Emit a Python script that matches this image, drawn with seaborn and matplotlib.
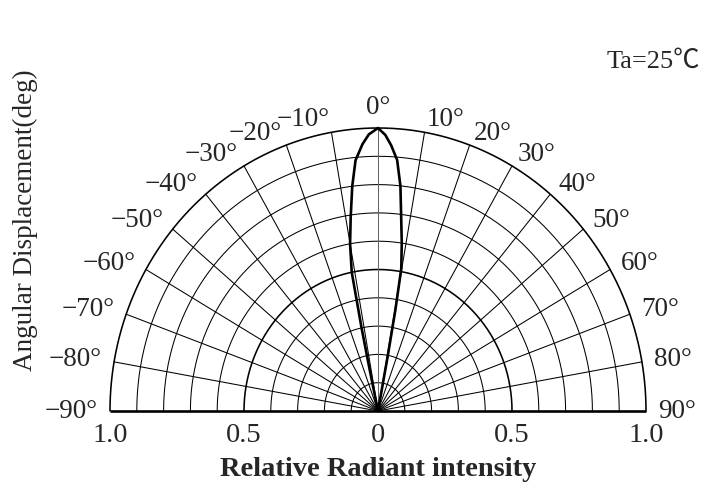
import numpy as np
import pandas as pd
import matplotlib
matplotlib.use("Agg")
import matplotlib.pyplot as plt
import seaborn as sns

# ---- data ----
beam_angle_deg = [-11.5, -12.0, -11.8, -11.3, -10.0, -8.5, -6.9, -5.4, -3.5, -2.0, 0.0,
                  1.6, 3.0, 4.6, 6.0, 7.2, 8.5, 9.8, 10.3, 10.6, 10.5]
beam_r = [0.0, 0.15, 0.30, 0.50, 0.60, 0.69, 0.80, 0.89, 0.945, 0.978, 1.0,
          0.976, 0.94, 0.89, 0.80, 0.69, 0.60, 0.51, 0.36, 0.20, 0.0]
grid_radii = [0.1, 0.2, 0.3, 0.4, 0.5, 0.6, 0.7, 0.8, 0.9, 1.0]
grid_angles = [-80, -70, -60, -50, -40, -30, -20, -10, 0, 10, 20, 30, 40, 50, 60, 70, 80]
angle_labels = [-90, -80, -70, -60, -50, -40, -30, -20, -10, 0, 10, 20, 30, 40, 50, 60, 70, 80, 90]
tick_pos = [-1.0, -0.5, 0.0, 0.5, 1.0]
tick_labels = ["1.0", "0.5", "0", "0.5", "1.0"]
xlabel = "Relative Radiant intensity"
ylabel = "Angular Displacement(deg)"
note = "Ta=25℃"

sns.set_theme(style="white")
plt.rcParams['font.family'] = ['Liberation Serif', 'Noto Sans CJK SC', 'DejaVu Sans']

W, H = 719, 488
fig = plt.figure(figsize=(W / 100, H / 100), dpi=100)
cx, by, R_x, R_y = 378, 411, 268, 283
ax = fig.add_axes([(cx - R_x) / W, (H - by) / H, 2 * R_x / W, R_y / H])
ax.set_xlim(-1, 1)
ax.set_ylim(0, 1)
ax.axis("off")

# circles
t = np.linspace(-np.pi / 2, np.pi / 2, 361)
for r in grid_radii:
    lw = 1.15 if r in (0.5, 1.0) else 0.75
    ax.plot(r * np.sin(t), r * np.cos(t), color="black", lw=lw, clip_on=False, zorder=2)
# radial lines
for a in grid_angles:
    th = np.deg2rad(a)
    col = "#666666" if a == 0 else "black"
    ax.plot([0, np.sin(th)], [0, np.cos(th)], color=col, lw=0.75, clip_on=False, zorder=2)
# baseline
ax.plot([-1, 1], [0, 0], color="black", lw=1.9, clip_on=False, zorder=3, solid_capstyle="butt")

# beam curve
th = np.deg2rad(np.array(beam_angle_deg))
rr = np.array(beam_r)
df = pd.DataFrame({"x": rr * np.sin(th), "y": rr * np.cos(th), "i": np.arange(len(rr))})
sns.lineplot(data=df, x="x", y="y", sort=False, color="black", lw=1.9, ax=ax,
             estimator=None, zorder=4, clip_on=False)
ax.set_xlim(-1, 1)
ax.set_ylim(0, 1)

# angle labels
for a in angle_labels:
    th = np.deg2rad(a)
    txt = ("−%d°" % abs(a)) if a < 0 else ("%d°" % a)
    if a == 0:
        ax.text(0, 1.03, txt, ha="center", va="bottom", fontsize=19.5, clip_on=False)
    else:
        Rl = 1.045
        x = Rl * np.sin(th)
        y = Rl * np.cos(th)
        ax.text(x, y, txt, ha="left" if a > 0 else "right", va="center",
                fontsize=19.5, clip_on=False)

# intensity tick labels
for p, lab in zip(tick_pos, tick_labels):
    ax.text(p, -0.085, lab, ha="center", va="center", fontsize=20.5, clip_on=False)

ax.text(0, -0.205, xlabel, ha="center", va="center", fontsize=20.5, fontweight="bold", clip_on=False)
ax.text(-1.317, 0.675, ylabel, ha="center", va="center", rotation=90, fontsize=19.5, clip_on=False)
ax.text(1.20, 1.233, note, ha="right", va="center", fontsize=19, clip_on=False)

fig.savefig("out.png", dpi=100)
